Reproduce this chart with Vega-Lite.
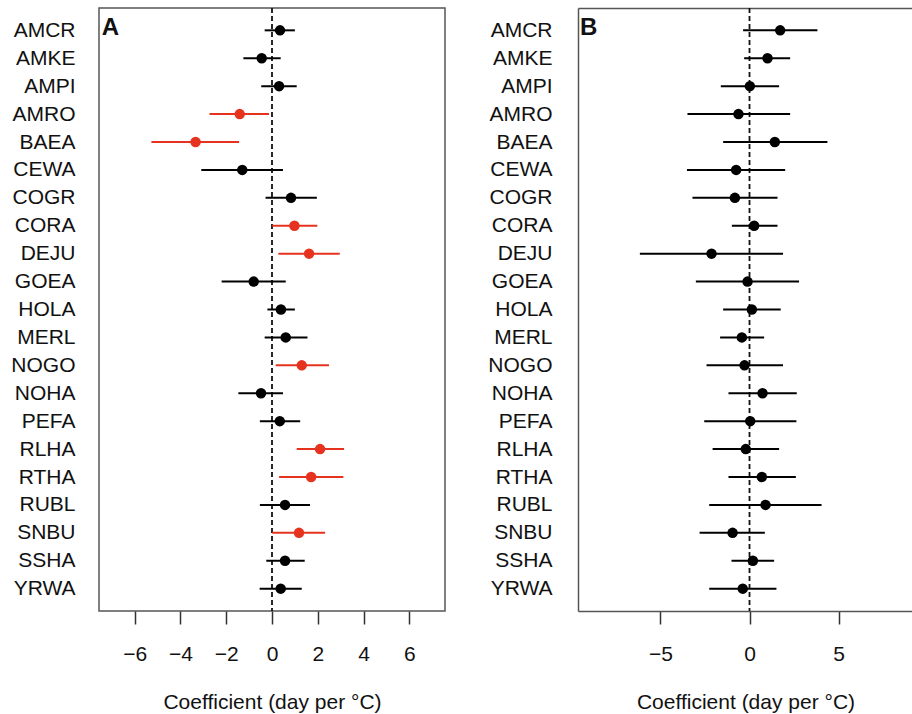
{
  "$schema": "https://vega.github.io/schema/vega-lite/v6.json",
  "background": "white",
  "padding": {"left": 10, "top": 6, "right": 0, "bottom": 0},
  "config": {
    "font": "Liberation Sans",
    "axis": {"grid": false, "labelColor": "#111111", "titleColor": "#111111", "labelFont": "Liberation Sans", "titleFont": "Liberation Sans"},
    "concat": {"spacing": 133}
  },
  "bounds": "flush",
  "datasets": {
    "a": [
      {"sp": "AMCR", "est": 0.35, "lo": -0.32, "hi": 1.0, "sig": "no"},
      {"sp": "AMKE", "est": -0.45, "lo": -1.25, "hi": 0.38, "sig": "no"},
      {"sp": "AMPI", "est": 0.31, "lo": -0.47, "hi": 1.08, "sig": "no"},
      {"sp": "AMRO", "est": -1.41, "lo": -2.73, "hi": -0.13, "sig": "yes"},
      {"sp": "BAEA", "est": -3.34, "lo": -5.27, "hi": -1.44, "sig": "yes"},
      {"sp": "CEWA", "est": -1.3, "lo": -3.09, "hi": 0.48, "sig": "no"},
      {"sp": "COGR", "est": 0.83, "lo": -0.28, "hi": 1.96, "sig": "no"},
      {"sp": "CORA", "est": 0.98, "lo": 0.01, "hi": 1.98, "sig": "yes"},
      {"sp": "DEJU", "est": 1.62, "lo": 0.28, "hi": 2.96, "sig": "yes"},
      {"sp": "GOEA", "est": -0.8, "lo": -2.2, "hi": 0.6, "sig": "no"},
      {"sp": "HOLA", "est": 0.39, "lo": -0.2, "hi": 1.0, "sig": "no"},
      {"sp": "MERL", "est": 0.6, "lo": -0.32, "hi": 1.55, "sig": "no"},
      {"sp": "NOGO", "est": 1.3, "lo": 0.16, "hi": 2.49, "sig": "yes"},
      {"sp": "NOHA", "est": -0.48, "lo": -1.47, "hi": 0.48, "sig": "no"},
      {"sp": "PEFA", "est": 0.34, "lo": -0.53, "hi": 1.23, "sig": "no"},
      {"sp": "RLHA", "est": 2.1, "lo": 1.08, "hi": 3.15, "sig": "yes"},
      {"sp": "RTHA", "est": 1.71, "lo": 0.31, "hi": 3.12, "sig": "yes"},
      {"sp": "RUBL", "est": 0.57, "lo": -0.53, "hi": 1.66, "sig": "no"},
      {"sp": "SNBU", "est": 1.18, "lo": 0.01, "hi": 2.32, "sig": "yes"},
      {"sp": "SSHA", "est": 0.57, "lo": -0.25, "hi": 1.43, "sig": "no"},
      {"sp": "YRWA", "est": 0.38, "lo": -0.54, "hi": 1.3, "sig": "no"}
    ],
    "b": [
      {"sp": "AMCR", "est": 1.72, "lo": -0.36, "hi": 3.81},
      {"sp": "AMKE", "est": 1.01, "lo": -0.3, "hi": 2.28},
      {"sp": "AMPI", "est": 0.02, "lo": -1.61, "hi": 1.66},
      {"sp": "AMRO", "est": -0.62, "lo": -3.48, "hi": 2.28},
      {"sp": "BAEA", "est": 1.42, "lo": -1.48, "hi": 4.37},
      {"sp": "CEWA", "est": -0.75, "lo": -3.51, "hi": 2.0},
      {"sp": "COGR", "est": -0.82, "lo": -3.2, "hi": 1.57},
      {"sp": "CORA", "est": 0.26, "lo": -0.99, "hi": 1.57},
      {"sp": "DEJU", "est": -2.13, "lo": -6.15, "hi": 1.88},
      {"sp": "GOEA", "est": -0.11, "lo": -3.01, "hi": 2.78},
      {"sp": "HOLA", "est": 0.13, "lo": -1.48, "hi": 1.75},
      {"sp": "MERL", "est": -0.43, "lo": -1.65, "hi": 0.82},
      {"sp": "NOGO", "est": -0.28, "lo": -2.41, "hi": 1.88},
      {"sp": "NOHA", "est": 0.73, "lo": -1.18, "hi": 2.65},
      {"sp": "PEFA", "est": 0.04, "lo": -2.54, "hi": 2.63},
      {"sp": "RLHA", "est": -0.21, "lo": -2.07, "hi": 1.66},
      {"sp": "RTHA", "est": 0.69, "lo": -1.18, "hi": 2.6},
      {"sp": "RUBL", "est": 0.9, "lo": -2.26, "hi": 4.04},
      {"sp": "SNBU", "est": -0.95, "lo": -2.8, "hi": 0.86},
      {"sp": "SSHA", "est": 0.19, "lo": -1.01, "hi": 1.38},
      {"sp": "YRWA", "est": -0.38, "lo": -2.26, "hi": 1.51}
    ]
  },
  "hconcat": [
    {
      "width": 346,
      "height": 603,
      "view": {"stroke": "#555555", "strokeWidth": 1.5},
      "data": {"name": "a"},
      "layer": [
        {
          "data": {"values": [{}]},
          "mark": {"type": "rule", "strokeDash": [5, 3], "strokeWidth": 1.8, "color": "#111111"},
          "encoding": {"x": {"datum": 0, "type": "quantitative"}}
        },
        {
          "mark": {"type": "rule", "strokeWidth": 2},
          "encoding": {
            "y": {"field": "sp", "type": "nominal", "sort": null, "scale": {"type": "point", "padding": 0.8},
                  "axis": {"title": null, "ticks": false, "tickSize": 0, "domain": false, "labelPadding": 24, "labelFontSize": 21}},
            "x": {"field": "lo", "type": "quantitative",
                  "scale": {"domain": [-7.56, 7.56], "nice": false, "zero": false},
                  "axis": {"values": [-6, -4, -2, 0, 2, 4, 6], "title": "Coefficient (day per °C)", "domain": false,
                           "tickSize": 13, "tickWidth": 1.5, "tickColor": "#333333", "labelFontSize": 21, "labelPadding": 19,
                           "titleFontSize": 21, "titleFontWeight": "normal", "titlePadding": 27}},
            "x2": {"field": "hi"},
            "color": {"field": "sig", "type": "nominal", "scale": {"domain": ["yes", "no"], "range": ["#e5331f", "#000000"]}, "legend": null}
          }
        },
        {
          "mark": {"type": "circle", "size": 110, "opacity": 1},
          "encoding": {
            "y": {"field": "sp", "type": "nominal", "sort": null},
            "x": {"field": "est", "type": "quantitative"},
            "color": {"field": "sig", "type": "nominal", "legend": null}
          }
        },
        {
          "data": {"values": [{"lab": "A"}]},
          "mark": {"type": "text", "align": "left", "baseline": "middle", "fontSize": 24, "fontWeight": "bold", "color": "#111111", "dy": -2},
          "encoding": {
            "x": {"datum": -7.44, "type": "quantitative"},
            "y": {"datum": "AMCR", "type": "nominal"},
            "text": {"field": "lab"}
          }
        }
      ]
    },
    {
      "width": 335,
      "height": 603,
      "view": {"stroke": null},
      "data": {"name": "b"},
      "resolve": {"scale": {"x": "independent"}, "axis": {"x": "independent"}},
      "layer": [
        {
          "data": {"values": [{}]},
          "mark": {"type": "rule", "strokeDash": [5, 3], "strokeWidth": 1.8, "color": "#111111"},
          "encoding": {"x": {"datum": 0, "type": "quantitative",
                             "scale": {"domain": [-9.62, 9.17], "nice": false, "zero": false},
                             "axis": {"orient": "top", "labels": false, "ticks": false, "title": null, "domain": true, "domainColor": "#555555", "domainWidth": 1.5}}}
        },
        {
          "layer": [
            {
              "mark": {"type": "rule", "strokeWidth": 2, "color": "#000000"},
              "encoding": {
                "y": {"field": "sp", "type": "nominal", "sort": null, "scale": {"type": "point", "padding": 0.8},
                      "axis": {"title": null, "ticks": false, "tickSize": 0, "domain": true, "domainColor": "#555555", "domainWidth": 1.5, "labelPadding": 26, "labelFontSize": 21}},
                "x": {"field": "lo", "type": "quantitative",
                      "scale": {"domain": [-9.62, 9.17], "nice": false, "zero": false},
                      "axis": {"values": [-5, 0, 5], "title": "Coefficient (day per °C)", "domain": true, "domainColor": "#555555", "domainWidth": 1.5,
                               "tickSize": 13, "tickWidth": 1.5, "tickColor": "#333333", "labelFontSize": 21, "labelPadding": 19,
                               "titleFontSize": 21, "titleFontWeight": "normal", "titlePadding": 27}},
                "x2": {"field": "hi"}
              }
            },
            {
              "mark": {"type": "circle", "size": 110, "opacity": 1, "color": "#000000"},
              "encoding": {
                "y": {"field": "sp", "type": "nominal", "sort": null},
                "x": {"field": "est", "type": "quantitative"}
              }
            },
            {
              "data": {"values": [{"lab": "B"}]},
              "mark": {"type": "text", "align": "left", "baseline": "middle", "fontSize": 24, "fontWeight": "bold", "color": "#111111", "dy": -2},
              "encoding": {
                "x": {"datum": -9.51, "type": "quantitative"},
                "y": {"datum": "AMCR", "type": "nominal"},
                "text": {"field": "lab"}
              }
            }
          ]
        }
      ]
    }
  ]
}
